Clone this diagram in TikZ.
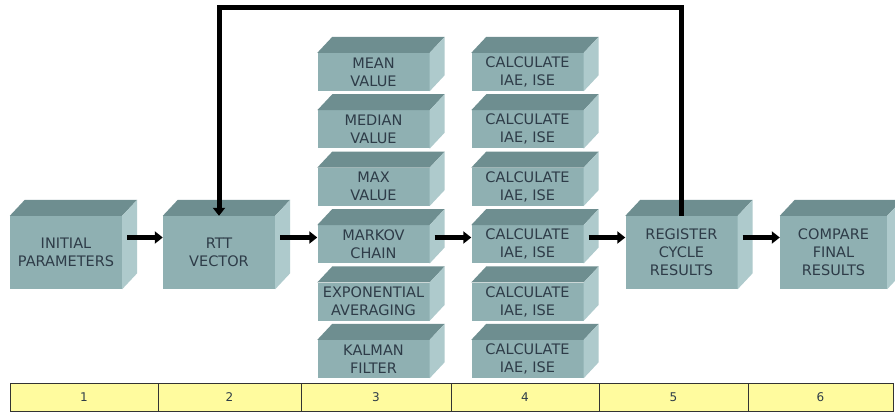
\documentclass[tikz,border=0pt]{standalone}
\usepackage{fontspec}
\setmainfont{DejaVu Sans}
\usetikzlibrary{arrows.meta,calc}
\definecolor{frontc}{HTML}{8FB0B2}
\definecolor{topc}{HTML}{6E8E90}
\definecolor{sidec}{HTML}{AECACC}
\definecolor{txtc}{HTML}{2E3C48}
\definecolor{cellc}{HTML}{FFFB9E}
\newcommand{\cubefaces}[1]{%
  \fill[topc] (#1.north west) -- ([shift={(15pt,16pt)}]#1.north west) -- ([shift={(15pt,16pt)}]#1.north east) -- (#1.north east) -- cycle;
  \fill[sidec] (#1.north east) -- ([shift={(15pt,16pt)}]#1.north east) -- ([shift={(15pt,16pt)}]#1.south east) -- (#1.south east) -- cycle;}
\begin{document}
\begin{tikzpicture}[x=1pt,y=-1pt,
  front/.style={fill=frontc, inner sep=0pt, text=txtc, align=center, font=\fontsize{14.5}{18}\selectfont},
  bigbox/.style={front, minimum width=112pt, minimum height=73pt},
  smallbox/.style={front, minimum width=112pt, minimum height=38pt},
  arr/.style={line width=5pt, -{Triangle[length=8pt,width=12pt]}, shorten <=5pt},
  fbline/.style={line width=5pt, line join=miter, -{Triangle[length=8pt,width=12pt]}},
  cell/.style={draw=black!80, line width=0.8pt, fill=cellc, minimum height=28pt, inner sep=0pt, text=txtc, font=\fontsize{12}{14}\selectfont}]
\clip (0,0) rectangle (895,412);
\fill[white] (0,0) rectangle (895,412);
% big boxes
\node[bigbox] (init) at (66,252.5) {INITIAL\\PARAMETERS};
\node[bigbox] (rtt) at (219,252.5) {RTT\\VECTOR};
\node[bigbox] (reg) at (681.5,252.5) {REGISTER\\CYCLE\\RESULTS};
\node[bigbox, minimum width=107pt] (cmp) at (833.5,252.5) {COMPARE\\FINAL\\RESULTS};
\cubefaces{init}\cubefaces{rtt}\cubefaces{reg}\cubefaces{cmp}
% column 3
\node[smallbox] (mean) at (373.5,72) {MEAN\\VALUE};
\node[smallbox] (median) at (373.5,129.4) {MEDIAN\\VALUE};
\node[smallbox] (max) at (373.5,186.8) {MAX\\VALUE};
\node[smallbox] (markov) at (373.5,244.2) {MARKOV\\CHAIN};
\node[smallbox] (expo) at (373.5,301.6) {EXPONENTIAL\\AVERAGING};
\node[smallbox] (kalman) at (373.5,359) {KALMAN\\FILTER};
\cubefaces{mean}\cubefaces{median}\cubefaces{max}\cubefaces{markov}\cubefaces{expo}\cubefaces{kalman}
% column 4
\node[smallbox] (c1) at (527.5,72) {CALCULATE\\IAE, ISE};
\node[smallbox] (c2) at (527.5,129.4) {CALCULATE\\IAE, ISE};
\node[smallbox] (c3) at (527.5,186.8) {CALCULATE\\IAE, ISE};
\node[smallbox] (c4) at (527.5,244.2) {CALCULATE\\IAE, ISE};
\node[smallbox] (c5) at (527.5,301.6) {CALCULATE\\IAE, ISE};
\node[smallbox] (c6) at (527.5,359) {CALCULATE\\IAE, ISE};
\cubefaces{c1}\cubefaces{c2}\cubefaces{c3}\cubefaces{c4}\cubefaces{c5}\cubefaces{c6}
% arrows
\coordinate (row) at (0,237.5);
\coordinate (topline) at (0,7.5);
\draw[arr] (init.east |- row) -- (rtt.west |- row);
\draw[arr] (rtt.east |- row) -- (markov.west |- row);
\draw[arr] (markov.east |- row) -- (c4.west |- row);
\draw[arr] (c4.east |- row) -- (reg.west |- row);
\draw[arr] (reg.east |- row) -- (cmp.west |- row);
\draw[fbline] (reg.north) -- (reg.north |- topline) -| (rtt.north);
% table
\node[cell, minimum width=148pt] (t1) at (84,397) {1};
\node[cell, minimum width=143pt] (t2) at (229.5,397) {2};
\node[cell, minimum width=150pt] (t3) at (376,397) {3};
\node[cell, minimum width=148pt] (t4) at (525,397) {4};
\node[cell, minimum width=149pt] (t5) at (673.5,397) {5};
\node[cell, minimum width=145pt] (t6) at (820.5,397) {6};
\end{tikzpicture}
\end{document}
